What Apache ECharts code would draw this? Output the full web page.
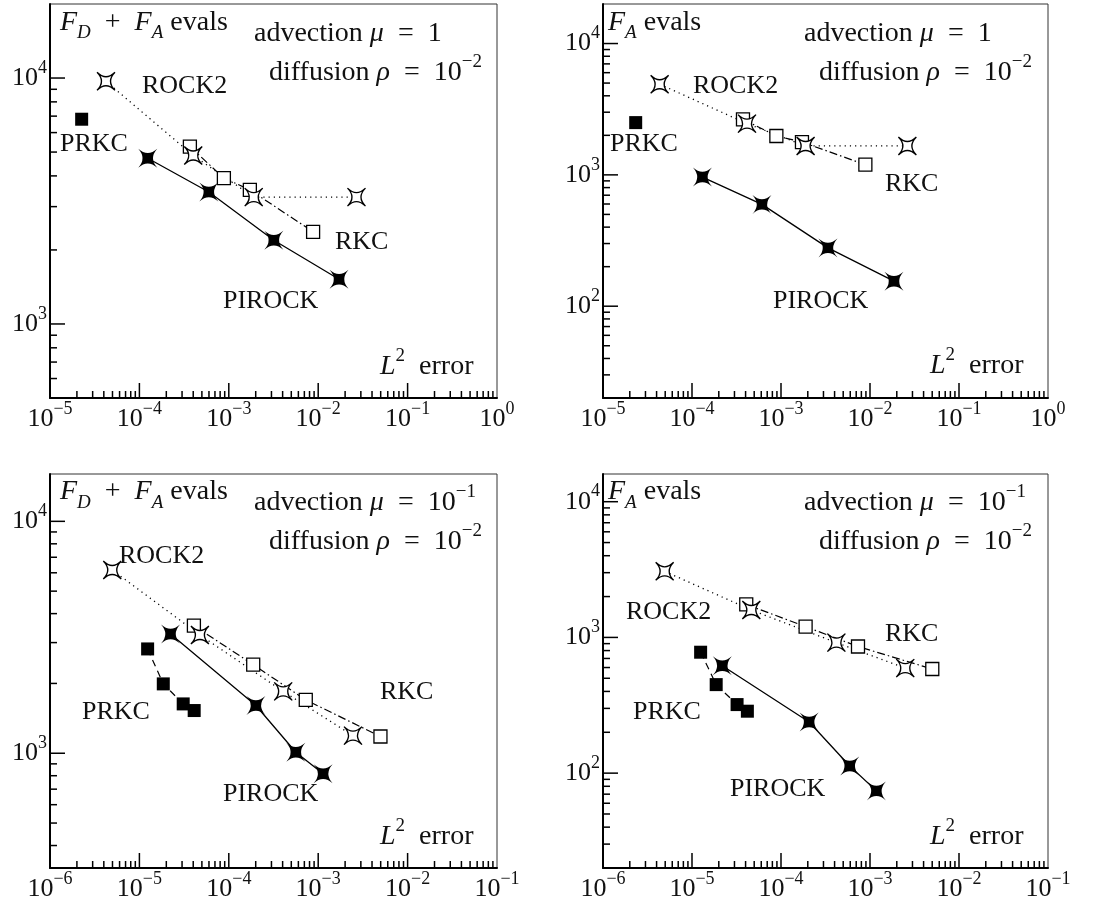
<!DOCTYPE html>
<html><head><meta charset="utf-8">
<script src="https://cdn.jsdelivr.net/npm/echarts@6/dist/echarts.min.js"></script>
<style>html,body{margin:0;padding:0;background:#fff}#c{width:1103px;height:905px}</style>
</head><body><div id="c"></div>
<script>
// ---------- data ----------
// Panel 1: advection mu=1, F_D+F_A evals
const p1_PIROCK_x = [1.24e-4, 5.98e-4, 3.19e-3, 1.71e-2];
const p1_PIROCK_y = [4720, 3440, 2190, 1520];
const p1_ROCK2_x  = [4.23e-5, 4.0e-4, 1.9e-3, 2.68e-2];
const p1_ROCK2_y  = [9700, 4840, 3280, 3280];
const p1_RKC_x    = [3.67e-4, 8.81e-4, 1.72e-3, 8.77e-3];
const p1_RKC_y    = [5260, 3920, 3510, 2370];
const p1_PRKC_x   = [2.26e-5];
const p1_PRKC_y   = [6800];
// Panel 2: advection mu=1, F_A evals
const p2_PIROCK_x = [1.31e-4, 6.11e-4, 3.37e-3, 1.86e-2];
const p2_PIROCK_y = [962, 596, 278, 155];
const p2_ROCK2_x  = [4.33e-5, 4.15e-4, 1.89e-3, 2.63e-2];
const p2_ROCK2_y  = [4900, 2455, 1660, 1660];
const p2_RKC_x    = [3.74e-4, 8.87e-4, 1.72e-3, 8.87e-3];
const p2_RKC_y    = [2650, 1977, 1778, 1195];
const p2_PRKC_x   = [2.33e-5];
const p2_PRKC_y   = [2500];
// Panel 3: advection mu=1e-1, F_D+F_A evals
const p3_PIROCK_x = [2.23e-5, 2.01e-4, 5.62e-4, 1.135e-3];
const p3_PIROCK_y = [3266, 1606, 1010, 815];
const p3_ROCK2_x  = [4.97e-6, 4.75e-5, 4.06e-4, 2.45e-3];
const p3_ROCK2_y  = [6165, 3236, 1848, 1191];
const p3_RKC_x    = [4.07e-5, 1.875e-4, 7.26e-4, 4.97e-3];
const p3_RKC_y    = [3550, 2410, 1698, 1181];
const p3_PRKC_x   = [1.236e-5, 1.85e-5, 3.09e-5, 4.1e-5];
const p3_PRKC_y   = [2817, 1991, 1632, 1528];
// Panel 4: advection mu=1e-1, F_A evals
const p4_PIROCK_x = [2.19e-5, 2.07e-4, 5.92e-4, 1.18e-3];
const p4_PIROCK_y = [618, 238, 113, 74];
const p4_ROCK2_x  = [4.93e-6, 4.64e-5, 4.19e-4, 2.49e-3];
const p4_ROCK2_y  = [3069, 1591, 916, 594];
const p4_RKC_x    = [4.07e-5, 1.89e-4, 7.33e-4, 5.01e-3];
const p4_RKC_y    = [1750, 1200, 857, 585];
const p4_PRKC_x   = [1.25e-5, 1.87e-5, 3.21e-5, 4.19e-5];
const p4_PRKC_y   = [778, 449, 320, 286];

// axis ranges
const xRangeTop = [1e-5, 1];
const xRangeBottom = [1e-6, 1e-1];
const yRange1 = [500, 20000];
const yRange2 = [20, 20000];
const yRange3 = [320, 16000];
const yRange4 = [20, 16000];

// ---------- styling ----------
const FONT = 'Liberation Serif';
const INK = '#111';
const STAR_OPEN = 'path://M-10,-10Q0,0,10,-10Q0,0,10,10Q0,0,-10,10Q0,0,-10,-10Z';
const STAR_FILL = 'path://M-10,-10Q0,-1,10,-10Q1,0,10,10Q0,1,-10,10Q-1,0,-10,-10Z';

const styles = {
  RKC:    {symbol:'rect', symbolSize:13, itemStyle:{color:'#fff', borderColor:'#000', borderWidth:1.3},
           lineStyle:{color:'#000', width:1.2, type:[8,3,1.5,3]}},
  ROCK2:  {symbol:STAR_OPEN, symbolSize:18, itemStyle:{color:'#fff', borderColor:'#000', borderWidth:1.3},
           lineStyle:{color:'#000', width:1.3, type:[1.2,4]}},
  PRKC:   {symbol:'rect', symbolSize:13, itemStyle:{color:'#000'},
           lineStyle:{color:'#000', width:1.2, type:[7,5]}},
  PIROCK: {symbol:STAR_FILL, symbolSize:19, itemStyle:{color:'#000'},
           lineStyle:{color:'#000', width:1.3, type:'solid'}}
};

const rich = {
  t: {fontFamily:FONT, fontSize:28, lineHeight:40, fill:INK, color:INK},
  i: {fontFamily:FONT, fontSize:28, lineHeight:40, fontStyle:'italic', fill:INK, color:INK},
  m: {fontFamily:FONT, fontSize:26, lineHeight:40, fill:INK, color:INK},
  s: {fontFamily:FONT, fontSize:19, lineHeight:19, verticalAlign:'top', fill:INK, color:INK},
  d: {fontFamily:FONT, fontSize:19, lineHeight:27, verticalAlign:'bottom', fontStyle:'italic', fill:INK, color:INK}
};

const SP = '\u2002';
const T_EVALS_DA = '{i|F}{d|D}{t|' + SP + '+' + SP + '}{i|F}{d|A}{t| evals}';
const T_EVALS_A  = '{i|F}{d|A}{t| evals}';
const T_ADV1     = '{t|advection }{i|μ}{t|' + SP + '=' + SP + '1}';
const T_ADV01    = '{t|advection }{i|μ}{t|' + SP + '=' + SP + '10}{s|\u22121}';
const T_DIFF     = '{t|diffusion }{i|ρ}{t|' + SP + '=' + SP + '10}{s|\u22122}';
const T_L2       = '{i|L}{s|2}{t|' + SP + 'error}';

const panels = [
  {grid:{left:50, top:4, width:447, height:394}, xr:xRangeTop, yr:yRange1,
   data:{RKC:[p1_RKC_x,p1_RKC_y], ROCK2:[p1_ROCK2_x,p1_ROCK2_y], PRKC:[p1_PRKC_x,p1_PRKC_y], PIROCK:[p1_PIROCK_x,p1_PIROCK_y]},
   texts:[[60,22.5,T_EVALS_DA],[254,34,T_ADV1],[269,72.5,T_DIFF],[142,86,'{m|ROCK2}'],[60,144,'{m|PRKC}'],[335,242,'{m|RKC}'],[223,301,'{m|PIROCK}'],[380,366.5,T_L2]]},
  {grid:{left:603, top:4, width:445, height:394}, xr:xRangeTop, yr:yRange2,
   data:{RKC:[p2_RKC_x,p2_RKC_y], ROCK2:[p2_ROCK2_x,p2_ROCK2_y], PRKC:[p2_PRKC_x,p2_PRKC_y], PIROCK:[p2_PIROCK_x,p2_PIROCK_y]},
   texts:[[608,22.5,T_EVALS_A],[804,34,T_ADV1],[819,72.5,T_DIFF],[693,86,'{m|ROCK2}'],[610,144.5,'{m|PRKC}'],[885,184,'{m|RKC}'],[773,301,'{m|PIROCK}'],[930,365.5,T_L2]]},
  {grid:{left:50, top:474, width:447, height:394}, xr:xRangeBottom, yr:yRange3,
   data:{RKC:[p3_RKC_x,p3_RKC_y], ROCK2:[p3_ROCK2_x,p3_ROCK2_y], PRKC:[p3_PRKC_x,p3_PRKC_y], PIROCK:[p3_PIROCK_x,p3_PIROCK_y]},
   texts:[[60,492,T_EVALS_DA],[254,503,T_ADV01],[269,541.5,T_DIFF],[119,556,'{m|ROCK2}'],[82,712,'{m|PRKC}'],[380,692,'{m|RKC}'],[223,794,'{m|PIROCK}'],[380,836.5,T_L2]]},
  {grid:{left:603, top:474, width:445, height:394}, xr:xRangeBottom, yr:yRange4,
   data:{RKC:[p4_RKC_x,p4_RKC_y], ROCK2:[p4_ROCK2_x,p4_ROCK2_y], PRKC:[p4_PRKC_x,p4_PRKC_y], PIROCK:[p4_PIROCK_x,p4_PIROCK_y]},
   texts:[[608,492,T_EVALS_A],[804,503,T_ADV01],[819,541.5,T_DIFF],[626,612,'{m|ROCK2}'],[633,712,'{m|PRKC}'],[885,634,'{m|RKC}'],[730,789.5,'{m|PIROCK}'],[930,836.5,T_L2]]}
];

function expLabel(v){
  const l = Math.log10(v), e = Math.round(l);
  if (Math.abs(l - e) > 1e-6) return '';
  return '{b|10}{e|' + (e < 0 ? '\u2212' + (-e) : String(e)) + '}';
}
const labelRich = {
  b: {fontFamily:FONT, fontSize:26, lineHeight:38, color:INK},
  e: {fontFamily:FONT, fontSize:18, lineHeight:18, verticalAlign:'top', color:INK}
};

// tick positions along an axis range
function tickVals(min, max){
  const out = [];
  const lo = Math.floor(Math.log10(min)), hi = Math.ceil(Math.log10(max));
  for (let d = lo; d <= hi; d++){
    for (let k = 1; k <= 9; k++){
      const v = k * Math.pow(10, d);
      if (v > min * 1.0001 && v < max * 0.9999) out.push([v, k === 1 ? 15 : 7]);
    }
  }
  return out;
}

const grid = [], xAxis = [], yAxis = [], series = [], graphic = [];
panels.forEach((p, gi) => {
  grid.push(Object.assign({show:true, borderColor:'#333', borderWidth:1, backgroundColor:'transparent', outerBoundsMode:'none', containLabel:false}, p.grid));
  const common = {
    type:'log', logBase:10, gridIndex:gi,
    axisLine:{show:true, lineStyle:{color:'#000', width:2}},
    axisTick:{show:false}, splitLine:{show:false}, minorTick:{show:false},
    axisLabel:{formatter:expLabel, rich:labelRich, color:INK, showMinLabel:true, showMaxLabel:true}
  };
  xAxis.push(Object.assign({}, common, {min:p.xr[0], max:p.xr[1],
    axisLabel:Object.assign({}, common.axisLabel, {margin:2})}));
  yAxis.push(Object.assign({}, common, {min:p.yr[0], max:p.yr[1],
    axisLabel:Object.assign({}, common.axisLabel, {margin:3})}));

  ['RKC','ROCK2','PRKC','PIROCK'].forEach(name => {
    const [xs, ys] = p.data[name];
    const st = styles[name];
    series.push({
      type:'line', name, xAxisIndex:gi, yAxisIndex:gi,
      data: xs.map((x, i) => [x, ys[i]]),
      symbol:st.symbol, symbolSize:st.symbolSize, symbolKeepAspect:true,
      showSymbol:true, showAllSymbol:true,
      itemStyle:st.itemStyle, lineStyle:st.lineStyle,
      emphasis:{disabled:true}, silent:true, z:3, animation:false
    });
  });

  const tdata = [];
  tickVals(p.xr[0], p.xr[1]).forEach(([v, len]) => tdata.push([v, p.yr[0], len, 0]));
  tickVals(p.yr[0], p.yr[1]).forEach(([v, len]) => tdata.push([p.xr[0], v, len, 1]));
  series.push({
    type:'custom', xAxisIndex:gi, yAxisIndex:gi, silent:true, clip:false, z:4, animation:false,
    data:tdata,
    renderItem:(params, api) => {
      const pt = api.coord([api.value(0), api.value(1)]);
      const len = api.value(2), o = api.value(3);
      const shape = o === 0 ? {x1:pt[0], y1:pt[1], x2:pt[0], y2:pt[1]-len}
                            : {x1:pt[0], y1:pt[1], x2:pt[0]+len, y2:pt[1]};
      return {type:'line', shape, style:{stroke:'#000', lineWidth:1.5}};
    }
  });

  p.texts.forEach(([x, y, txt]) => {
    graphic.push({type:'text', x, y, silent:true, z:10,
      style:{text:txt, rich, fontFamily:FONT, fontSize:28, fill:INK, align:'left', verticalAlign:'middle'}});
  });
});

const chart = echarts.init(document.getElementById('c'), null, {renderer:'canvas'});
chart.setOption({animation:false, backgroundColor:'#fff', grid, xAxis, yAxis, series, graphic});
</script>
</body></html>
